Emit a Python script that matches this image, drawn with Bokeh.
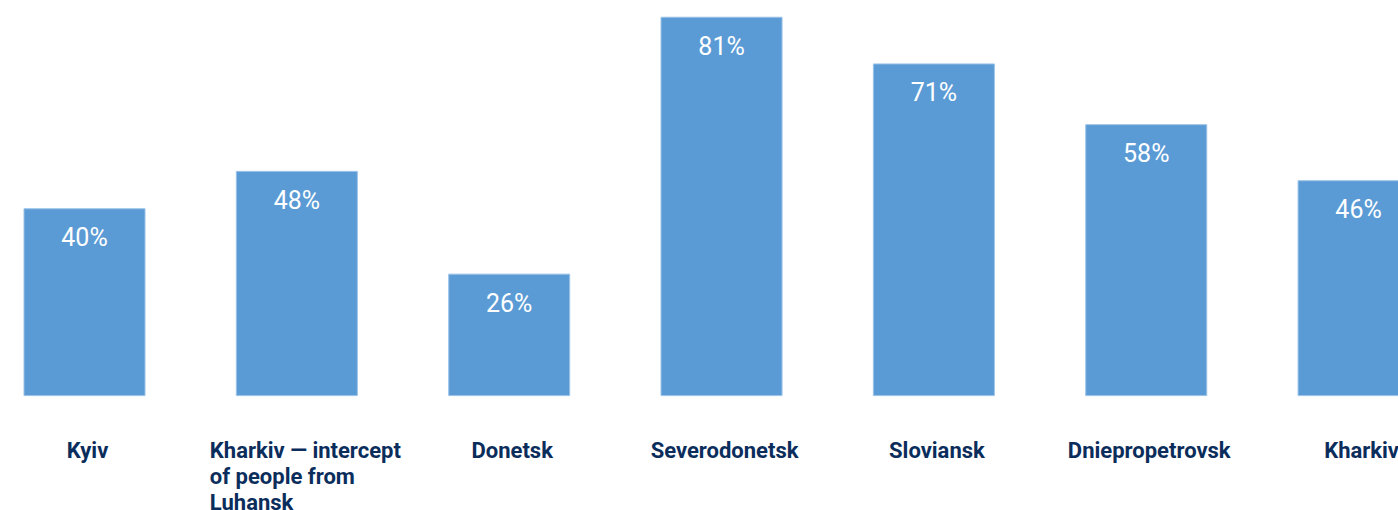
from bokeh.plotting import figure
from bokeh.models import ColumnDataSource, Range1d
from bokeh.core.properties import value
from bokeh.embed import file_html
from bokeh.resources import INLINE

categories = ["Kyiv", "Kharkiv \u2014 intercept\nof people from\nLuhansk", "Donetsk",
              "Severodonetsk", "Sloviansk", "Dniepropetrovsk", "Kharkiv"]
values = [40, 48, 26, 81, 71, 58, 46]
pct_labels = [f"{v}%" for v in values]

xs = list(range(len(categories)))
src = ColumnDataSource(dict(x=xs, top=values, pct=pct_labels))

p = figure(width=1398, height=510, output_backend="svg", toolbar_location=None,
           x_range=Range1d(-0.3956, 6.188), y_range=Range1d(-24.6, 84.58),
           min_border=0, outline_line_color=None)
p.axis.visible = False
p.grid.visible = False
p.background_fill_color = "white"
p.border_fill_color = "white"

p.vbar(x="x", top="top", bottom=0, width=0.57, source=src,
       fill_color="#5b9bd5", line_color="#9cc3e8", line_width=1)

p.text(x="x", y="top", text="pct", source=src, y_offset=29,
       text_align="center", text_baseline="middle", text_color="white",
       text_font=value("Roboto"), text_font_size="25px")

single_x = [i for i, c in enumerate(categories) if "\n" not in c]
single_t = [c for c in categories if "\n" not in c]
multi_x = [i for i, c in enumerate(categories) if "\n" in c]
multi_t = [c for c in categories if "\n" in c]

lab_src = ColumnDataSource(dict(x=single_x, y=[-9.0] * len(single_x), t=single_t))
p.text(x="x", y="y", text="t", source=lab_src, x_offset=3, text_align="center",
       text_baseline="top", text_color="#0b2d5c", text_font=value("Roboto"),
       text_font_size="22px", text_font_style="bold")

mlab_src = ColumnDataSource(dict(x=multi_x, y=[-9.0] * len(multi_x), t=multi_t))
p.text(x="x", y="y", text="t", source=mlab_src, x_offset=-87, text_align="left",
       text_baseline="top", text_color="#0b2d5c", text_font=value("Roboto"),
       text_font_size="22px", text_font_style="bold", text_line_height=1.05)

open("out.html", "w").write(file_html(p, INLINE))
